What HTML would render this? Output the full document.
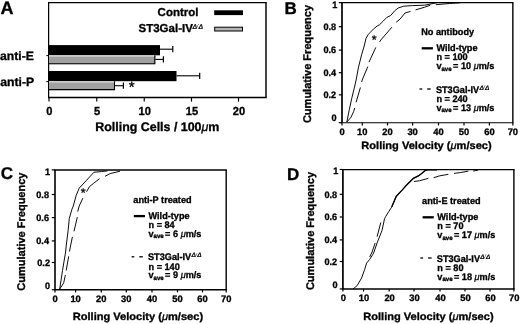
<!DOCTYPE html>
<html><head><meta charset="utf-8"><title>Figure</title>
<style>
html,body{margin:0;padding:0;background:#fff;}
body{width:520px;height:324px;overflow:hidden;}
svg{display:block;font-family:"Liberation Sans", sans-serif;}
svg text{fill:#000;stroke:#000;stroke-width:0.32px;text-rendering:geometricPrecision;}
</style></head>
<body>
<svg width="520" height="324" viewBox="0 0 520 324">
<rect x="0" y="0" width="520" height="324" fill="#fff"/>
<g id="panelA">
<text transform="translate(0.4,13.9)" font-size="18.0" text-anchor="start" font-weight="bold" >A</text>
<line x1="48.0" y1="2.6" x2="266.7" y2="2.6" stroke="#000" stroke-width="1.15" />
<line x1="48.6" y1="2.6" x2="48.6" y2="97.5" stroke="#000" stroke-width="1.25" />
<line x1="48.0" y1="97.5" x2="266.7" y2="97.5" stroke="#000" stroke-width="1.3" />
<line x1="266.0" y1="2.6" x2="266.0" y2="97.5" stroke="#000" stroke-width="1.45" />
<line x1="49" y1="97.5" x2="49" y2="101.6" stroke="#000" stroke-width="1.15" />
<text transform="translate(49.4,114.6) scale(0.95,1)" font-size="11.7" text-anchor="middle" font-weight="bold" >0</text>
<line x1="96.75" y1="97.5" x2="96.75" y2="101.6" stroke="#000" stroke-width="1.15" />
<text transform="translate(97.15,114.6) scale(0.95,1)" font-size="11.7" text-anchor="middle" font-weight="bold" >5</text>
<line x1="144.25" y1="97.5" x2="144.25" y2="101.6" stroke="#000" stroke-width="1.15" />
<text transform="translate(144.65,114.6) scale(0.95,1)" font-size="11.7" text-anchor="middle" font-weight="bold" >10</text>
<line x1="191.5" y1="97.5" x2="191.5" y2="101.6" stroke="#000" stroke-width="1.15" />
<text transform="translate(191.9,114.6) scale(0.95,1)" font-size="11.7" text-anchor="middle" font-weight="bold" >15</text>
<line x1="238.5" y1="97.5" x2="238.5" y2="101.6" stroke="#000" stroke-width="1.15" />
<text transform="translate(238.9,114.6) scale(0.95,1)" font-size="11.7" text-anchor="middle" font-weight="bold" >20</text>
<text transform="translate(157.3,131.2)" font-size="12.43" text-anchor="middle" font-weight="bold" >Rolling Cells / 100<tspan font-style="italic" font-weight="normal">μ</tspan>m</text>
<text transform="translate(198.5,15.8)" font-size="11.5" text-anchor="end" font-weight="bold" >Control</text>
<rect x="214.2" y="10.3" width="28.8" height="4.8" fill="#000"/>
<text transform="translate(138.5,31.8)" font-size="11.5" text-anchor="start" font-weight="bold" >ST3Gal-IV<tspan font-size="6.8" dy="-2.8" dx="-0.4" font-style="italic" stroke-width="0.1">Δ<tspan font-weight="normal" font-size="5.6" dx="-0.2" dy="-0.6" stroke-width="0">/</tspan><tspan dx="0.2" dy="0.6">Δ</tspan></tspan></text>
<rect x="214.7" y="27.2" width="27.8" height="3.8" fill="#b4b4b4" stroke="#000" stroke-width="1"/>
<text transform="translate(0,59.5)" font-size="12.2" text-anchor="start" font-weight="bold" >anti-E</text>
<text transform="translate(0.3,86.3)" font-size="12.2" text-anchor="start" font-weight="bold" >anti-P</text>
<line x1="46.3" y1="55.6" x2="49" y2="55.6" stroke="#000" stroke-width="1" />
<line x1="46.3" y1="81.6" x2="49" y2="81.6" stroke="#000" stroke-width="1" />
<rect x="49" y="45.1" width="111" height="10.199999999999996" fill="#000"/>
<line x1="160" y1="49.2" x2="172.8" y2="49.2" stroke="#000" stroke-width="1.1" />
<line x1="172.8" y1="46.1" x2="172.8" y2="52.300000000000004" stroke="#000" stroke-width="1.2" />
<rect x="49" y="55.3" width="106.30000000000001" height="8.900000000000006" fill="#a0a0a0"/>
<rect x="49" y="55.3" width="106.30000000000001" height="1.4" fill="#d4d4d4"/>
<path d="M154.8,55.3 L154.8,63.7 L49,63.7" fill="none" stroke="#000" stroke-width="1.1"/>
<line x1="155.3" y1="59.4" x2="163.4" y2="59.4" stroke="#000" stroke-width="1.1" />
<line x1="163.4" y1="56.3" x2="163.4" y2="62.5" stroke="#000" stroke-width="1.2" />
<rect x="49" y="71" width="127.5" height="10.200000000000003" fill="#000"/>
<line x1="176.5" y1="75.8" x2="199.7" y2="75.8" stroke="#000" stroke-width="1.1" />
<line x1="199.7" y1="72.7" x2="199.7" y2="78.89999999999999" stroke="#000" stroke-width="1.2" />
<rect x="49" y="81.2" width="66" height="8.899999999999991" fill="#a0a0a0"/>
<rect x="49" y="81.2" width="66" height="1.4" fill="#d4d4d4"/>
<path d="M114.5,81.2 L114.5,89.6 L49,89.6" fill="none" stroke="#000" stroke-width="1.1"/>
<line x1="115" y1="85.7" x2="123.4" y2="85.7" stroke="#000" stroke-width="1.1" />
<line x1="123.4" y1="82.60000000000001" x2="123.4" y2="88.8" stroke="#000" stroke-width="1.2" />
<text transform="translate(131.7,92.3)" font-size="15" text-anchor="middle" font-weight="normal" stroke-width="0.2">*</text>
</g>
<g id="panelB">
<text transform="translate(284.6,14.3)" font-size="17.0" text-anchor="start" font-weight="bold" >B</text>
<line x1="341.15" y1="2.65" x2="513.5500000000001" y2="2.65" stroke="#000" stroke-width="1.25" />
<line x1="512.85" y1="2.65" x2="512.85" y2="122.7" stroke="#000" stroke-width="1.4" />
<line x1="341.15" y1="122.7" x2="513.5500000000001" y2="122.7" stroke="#000" stroke-width="1.15" />
<line x1="342.0" y1="2.65" x2="342.0" y2="122.7" stroke="#000" stroke-width="1.7" />
<line x1="338.8" y1="2.65" x2="342.0" y2="2.65" stroke="#000" stroke-width="1.2" />
<text transform="translate(337.4,8.45) scale(0.975,1)" font-size="9.4" text-anchor="end" font-weight="bold" >1</text>
<line x1="338.8" y1="26.7" x2="342.0" y2="26.7" stroke="#000" stroke-width="1.2" />
<text transform="translate(336.2,29.8) scale(0.975,1)" font-size="9.4" text-anchor="end" font-weight="bold" >0.8</text>
<line x1="338.8" y1="50.1" x2="342.0" y2="50.1" stroke="#000" stroke-width="1.2" />
<text transform="translate(336.2,53.2) scale(0.975,1)" font-size="9.4" text-anchor="end" font-weight="bold" >0.6</text>
<line x1="338.8" y1="72.7" x2="342.0" y2="72.7" stroke="#000" stroke-width="1.2" />
<text transform="translate(336.2,75.8) scale(0.975,1)" font-size="9.4" text-anchor="end" font-weight="bold" >0.4</text>
<line x1="338.8" y1="94.8" x2="342.0" y2="94.8" stroke="#000" stroke-width="1.2" />
<text transform="translate(336.2,97.89999999999999) scale(0.975,1)" font-size="9.4" text-anchor="end" font-weight="bold" >0.2</text>
<line x1="338.8" y1="122.7" x2="342.0" y2="122.7" stroke="#000" stroke-width="1.2" />
<text transform="translate(336.5,121.2) scale(0.975,1)" font-size="9.4" text-anchor="end" font-weight="bold" >0</text>
<line x1="342.0" y1="122.7" x2="342.0" y2="125.4" stroke="#000" stroke-width="1.2" />
<text transform="translate(342.0,135.1)" font-size="9.4" text-anchor="middle" font-weight="bold" >0</text>
<line x1="362.3" y1="122.7" x2="362.3" y2="125.4" stroke="#000" stroke-width="1.2" />
<text transform="translate(362.3,135.1)" font-size="9.4" text-anchor="middle" font-weight="bold" >10</text>
<line x1="387.5" y1="122.7" x2="387.5" y2="125.4" stroke="#000" stroke-width="1.2" />
<text transform="translate(387.5,135.1)" font-size="9.4" text-anchor="middle" font-weight="bold" >20</text>
<line x1="412.6" y1="122.7" x2="412.6" y2="125.4" stroke="#000" stroke-width="1.2" />
<text transform="translate(412.6,135.1)" font-size="9.4" text-anchor="middle" font-weight="bold" >30</text>
<line x1="438.5" y1="122.7" x2="438.5" y2="125.4" stroke="#000" stroke-width="1.2" />
<text transform="translate(438.5,135.1)" font-size="9.4" text-anchor="middle" font-weight="bold" >40</text>
<line x1="464.0" y1="122.7" x2="464.0" y2="125.4" stroke="#000" stroke-width="1.2" />
<text transform="translate(464.0,135.1)" font-size="9.4" text-anchor="middle" font-weight="bold" >50</text>
<line x1="489.4" y1="122.7" x2="489.4" y2="125.4" stroke="#000" stroke-width="1.2" />
<text transform="translate(489.4,135.1)" font-size="9.4" text-anchor="middle" font-weight="bold" >60</text>
<line x1="512.85" y1="122.7" x2="512.85" y2="125.4" stroke="#000" stroke-width="1.2" />
<text transform="translate(512.85,135.1)" font-size="9.4" text-anchor="middle" font-weight="bold" >70</text>
<text transform="translate(426.5,148.7) scale(1.045,1)" font-size="10.6" text-anchor="middle" font-weight="bold" stroke-width="0.08">Rolling Velocity (<tspan font-style="italic" font-weight="normal">μ</tspan>m/sec)</text>
<text transform="translate(310.7,64.0) rotate(-90) scale(0.985,1)" font-size="11.2" text-anchor="middle" font-weight="bold" stroke-width="0.1">Cumulative Frequency</text>
<text transform="translate(421.2,35.0) scale(0.963,1)" font-size="9.5" text-anchor="start" font-weight="bold" >No antibody</text>
<line x1="421.7" y1="48.3" x2="432.9" y2="48.3" stroke="#000" stroke-width="2.3" />
<text transform="translate(436.4,51.0) scale(0.963,1)" font-size="9.5" text-anchor="start" font-weight="bold" >Wild-type</text>
<text transform="translate(436.4,59.9) scale(0.963,1)" font-size="9.5" text-anchor="start" font-weight="bold" >n = 100</text>
<text transform="translate(436.4,68.7) scale(0.963,1)" font-size="9.5" text-anchor="start" font-weight="bold" >v<tspan font-size="6.3" dy="1.8">ave</tspan><tspan dy="-1.8" dx="-1.2"> </tspan>= 10 <tspan font-style="italic" font-weight="normal">μ</tspan>m/s</text>
<line x1="419.5" y1="89.0" x2="422.2" y2="89.0" stroke="#000" stroke-width="1.3" />
<line x1="427.2" y1="89.0" x2="430.7" y2="89.0" stroke="#000" stroke-width="1.3" />
<text transform="translate(435.9,92.5) scale(0.963,1)" font-size="9.5" text-anchor="start" font-weight="bold" >ST3Gal-IV<tspan font-size="6.6" dy="-2.9" dx="0.3" font-style="italic" stroke-width="0.1">Δ<tspan font-weight="normal" font-size="5.4" dx="-0.2" dy="-0.6" stroke-width="0">/</tspan><tspan dx="0.2" dy="0.6">Δ</tspan></tspan></text>
<text transform="translate(436.4,101.8) scale(0.963,1)" font-size="9.5" text-anchor="start" font-weight="bold" >n = 240</text>
<text transform="translate(436.4,110.6) scale(0.963,1)" font-size="9.5" text-anchor="start" font-weight="bold" >v<tspan font-size="6.3" dy="1.8">ave</tspan><tspan dy="-1.8" dx="-1.2"> </tspan>= 13 <tspan font-style="italic" font-weight="normal">μ</tspan>m/s</text>
<path d="M346.8,122.1 L349.3,109.7 L351.7,98.6 L355.0,85.0 L356.1,80.0 L358.5,67.2 L361.6,54.8 L364.2,46.0 L366.0,38.4 L368.2,34.6 L370.4,32.2 L373.4,29.1 L377.1,26.0 L379.6,24.7 L383.3,21.0 L387.0,17.3 L390.7,15.5 L394.4,11.1 L398.1,8.0 L403.7,6.2 L412.4,5.6 L424.7,5.2 L432.1,3.7 L437.0,2.7" fill="none" stroke="#000" stroke-width="0.95" stroke-linejoin="round" />
<path d="M346.8,122.1 L351.1,117.1 L353.6,111.6 L354.8,107.9" fill="none" stroke="#000" stroke-width="0.95" stroke-linejoin="round" />
<path d="M356.1,102.3 L360.4,87.5" fill="none" stroke="#000" stroke-width="0.95" stroke-linejoin="round" />
<path d="M361.7,82.0 L362.2,80.0 L367.8,66.6" fill="none" stroke="#000" stroke-width="0.95" stroke-linejoin="round" />
<path d="M369.0,62.2 L375.8,47.4" fill="none" stroke="#000" stroke-width="0.95" stroke-linejoin="round" />
<path d="M379.6,41.9 L380.8,40.0 L391.9,27.2" fill="none" stroke="#000" stroke-width="0.95" stroke-linejoin="round" />
<path d="M396.2,22.2 L400.0,19.2 L405.0,13.0 L410.5,11.4" fill="none" stroke="#000" stroke-width="0.95" stroke-linejoin="round" />
<path d="M415.5,9.9 L424.7,7.2 L430.3,5.2" fill="none" stroke="#000" stroke-width="0.95" stroke-linejoin="round" />
<path d="M435.8,4.7 L449.4,3.5 L460.0,2.8" fill="none" stroke="#000" stroke-width="0.95" stroke-linejoin="round" />
<text transform="translate(374.1,44.0)" font-size="12.5" text-anchor="middle" font-weight="normal" stroke-width="0.15">*</text>
</g>
<g id="panelC">
<text transform="translate(0.8,179.3)" font-size="17.0" text-anchor="start" font-weight="bold" >C</text>
<line x1="54.2" y1="169.9" x2="226.89999999999998" y2="169.9" stroke="#000" stroke-width="1.5" />
<line x1="226.2" y1="169.9" x2="226.2" y2="289.7" stroke="#000" stroke-width="1.4" />
<line x1="54.2" y1="289.7" x2="226.89999999999998" y2="289.7" stroke="#000" stroke-width="1.4" />
<line x1="55.0" y1="169.9" x2="55.0" y2="289.7" stroke="#000" stroke-width="1.6" />
<line x1="51.8" y1="169.9" x2="55.0" y2="169.9" stroke="#000" stroke-width="1.2" />
<text transform="translate(50.2,174.5) scale(0.975,1)" font-size="9.4" text-anchor="end" font-weight="bold" >1</text>
<line x1="51.8" y1="194.5" x2="55.0" y2="194.5" stroke="#000" stroke-width="1.2" />
<text transform="translate(49.0,198.0) scale(0.975,1)" font-size="9.4" text-anchor="end" font-weight="bold" >0.8</text>
<line x1="51.8" y1="217.6" x2="55.0" y2="217.6" stroke="#000" stroke-width="1.2" />
<text transform="translate(49.0,221.1) scale(0.975,1)" font-size="9.4" text-anchor="end" font-weight="bold" >0.6</text>
<line x1="51.8" y1="240.9" x2="55.0" y2="240.9" stroke="#000" stroke-width="1.2" />
<text transform="translate(49.0,244.4) scale(0.975,1)" font-size="9.4" text-anchor="end" font-weight="bold" >0.4</text>
<line x1="51.8" y1="262.5" x2="55.0" y2="262.5" stroke="#000" stroke-width="1.2" />
<text transform="translate(50.0,266.0) scale(0.975,1)" font-size="9.4" text-anchor="end" font-weight="bold" >0.2</text>
<line x1="51.8" y1="289.7" x2="55.0" y2="289.7" stroke="#000" stroke-width="1.2" />
<text transform="translate(50.0,288.9) scale(0.975,1)" font-size="9.4" text-anchor="end" font-weight="bold" >0</text>
<line x1="55.0" y1="289.7" x2="55.0" y2="292.4" stroke="#000" stroke-width="1.2" />
<text transform="translate(55.0,301.7)" font-size="9.4" text-anchor="middle" font-weight="bold" >0</text>
<line x1="75.6" y1="289.7" x2="75.6" y2="292.4" stroke="#000" stroke-width="1.2" />
<text transform="translate(75.6,301.7)" font-size="9.4" text-anchor="middle" font-weight="bold" >10</text>
<line x1="101.3" y1="289.7" x2="101.3" y2="292.4" stroke="#000" stroke-width="1.2" />
<text transform="translate(101.3,301.7)" font-size="9.4" text-anchor="middle" font-weight="bold" >20</text>
<line x1="126.3" y1="289.7" x2="126.3" y2="292.4" stroke="#000" stroke-width="1.2" />
<text transform="translate(126.3,301.7)" font-size="9.4" text-anchor="middle" font-weight="bold" >30</text>
<line x1="152" y1="289.7" x2="152" y2="292.4" stroke="#000" stroke-width="1.2" />
<text transform="translate(152,301.7)" font-size="9.4" text-anchor="middle" font-weight="bold" >40</text>
<line x1="177.5" y1="289.7" x2="177.5" y2="292.4" stroke="#000" stroke-width="1.2" />
<text transform="translate(177.5,301.7)" font-size="9.4" text-anchor="middle" font-weight="bold" >50</text>
<line x1="202.5" y1="289.7" x2="202.5" y2="292.4" stroke="#000" stroke-width="1.2" />
<text transform="translate(202.5,301.7)" font-size="9.4" text-anchor="middle" font-weight="bold" >60</text>
<line x1="226.2" y1="289.7" x2="226.2" y2="292.4" stroke="#000" stroke-width="1.2" />
<text transform="translate(226.2,301.7)" font-size="9.4" text-anchor="middle" font-weight="bold" >70</text>
<text transform="translate(137.9,319.8) scale(1.045,1)" font-size="10.6" text-anchor="middle" font-weight="bold" stroke-width="0.08">Rolling Velocity (<tspan font-style="italic" font-weight="normal">μ</tspan>m/sec)</text>
<text transform="translate(24.5,231.6) rotate(-90) scale(0.985,1)" font-size="11.2" text-anchor="middle" font-weight="bold" stroke-width="0.1">Cumulative Frequency</text>
<text transform="translate(133.3,202.8) scale(0.963,1)" font-size="9.5" text-anchor="start" font-weight="bold" >anti-P treated</text>
<line x1="133.8" y1="216.10000000000002" x2="145.0" y2="216.10000000000002" stroke="#000" stroke-width="2.3" />
<text transform="translate(148.5,218.8) scale(0.963,1)" font-size="9.5" text-anchor="start" font-weight="bold" >Wild-type</text>
<text transform="translate(148.5,227.70000000000002) scale(0.963,1)" font-size="9.5" text-anchor="start" font-weight="bold" >n = 84</text>
<text transform="translate(148.5,236.5) scale(0.963,1)" font-size="9.5" text-anchor="start" font-weight="bold" >v<tspan font-size="6.3" dy="1.8">ave</tspan><tspan dy="-1.8" dx="-1.2"> </tspan>= 6 <tspan font-style="italic" font-weight="normal">μ</tspan>m/s</text>
<line x1="131.60000000000002" y1="256.8" x2="134.3" y2="256.8" stroke="#000" stroke-width="1.3" />
<line x1="139.3" y1="256.8" x2="142.8" y2="256.8" stroke="#000" stroke-width="1.3" />
<text transform="translate(148.0,260.3) scale(0.963,1)" font-size="9.5" text-anchor="start" font-weight="bold" >ST3Gal-IV<tspan font-size="6.6" dy="-2.9" dx="0.3" font-style="italic" stroke-width="0.1">Δ<tspan font-weight="normal" font-size="5.4" dx="-0.2" dy="-0.6" stroke-width="0">/</tspan><tspan dx="0.2" dy="0.6">Δ</tspan></tspan></text>
<text transform="translate(148.5,269.6) scale(0.963,1)" font-size="9.5" text-anchor="start" font-weight="bold" >n = 140</text>
<text transform="translate(148.5,278.4) scale(0.963,1)" font-size="9.5" text-anchor="start" font-weight="bold" >v<tspan font-size="6.3" dy="1.8">ave</tspan><tspan dy="-1.8" dx="-1.2"> </tspan>= 9 <tspan font-style="italic" font-weight="normal">μ</tspan>m/s</text>
<path d="M59.7,289.1 L62.5,270.5 L65.6,252.0 L66.2,246.0 L68.1,230.7 L69.3,218.4 L71.8,209.7 L73.3,206.0 L76.1,195.7 L79.2,188.2 L86.6,180.2 L94.0,172.2 L101.4,171.6 L107.6,170.9" fill="none" stroke="#000" stroke-width="0.95" stroke-linejoin="round" />
<path d="M59.7,289.1 L63.7,282.9 L65.0,276.7 L65.4,274.9" fill="none" stroke="#000" stroke-width="0.95" stroke-linejoin="round" />
<path d="M66.2,270.5 L68.7,256.3" fill="none" stroke="#000" stroke-width="0.95" stroke-linejoin="round" />
<path d="M69.5,251.5 L70.5,246.0 L72.4,236.9" fill="none" stroke="#000" stroke-width="0.95" stroke-linejoin="round" />
<path d="M74.0,231.3 L77.3,217.1" fill="none" stroke="#000" stroke-width="0.95" stroke-linejoin="round" />
<path d="M77.7,211.6 L79.2,206.0 L82.9,198.1" fill="none" stroke="#000" stroke-width="0.95" stroke-linejoin="round" />
<path d="M86.5,191.8 L89.3,186.8 L93.5,183.4 L99.6,178.6" fill="none" stroke="#000" stroke-width="0.95" stroke-linejoin="round" />
<path d="M105.0,176.3 L110.1,173.6 L116.0,172.2 L120.0,171.2" fill="none" stroke="#000" stroke-width="0.95" stroke-linejoin="round" />
<text transform="translate(83.2,196.6)" font-size="12.5" text-anchor="middle" font-weight="normal" stroke-width="0.15">*</text>
</g>
<g id="panelD">
<text transform="translate(287.0,180)" font-size="17.0" text-anchor="start" font-weight="bold" >D</text>
<line x1="342.04999999999995" y1="169.5" x2="514.6" y2="169.5" stroke="#000" stroke-width="1.25" />
<line x1="513.9" y1="169.5" x2="513.9" y2="288.9" stroke="#000" stroke-width="1.4" />
<line x1="342.04999999999995" y1="288.9" x2="514.6" y2="288.9" stroke="#000" stroke-width="1.5" />
<line x1="342.9" y1="169.5" x2="342.9" y2="288.9" stroke="#000" stroke-width="1.7" />
<line x1="339.7" y1="169.5" x2="342.9" y2="169.5" stroke="#000" stroke-width="1.2" />
<text transform="translate(338.29999999999995,174.3) scale(0.975,1)" font-size="9.4" text-anchor="end" font-weight="bold" >1</text>
<line x1="339.7" y1="194.3" x2="342.9" y2="194.3" stroke="#000" stroke-width="1.2" />
<text transform="translate(337.09999999999997,197.60000000000002) scale(0.975,1)" font-size="9.4" text-anchor="end" font-weight="bold" >0.8</text>
<line x1="339.7" y1="217" x2="342.9" y2="217" stroke="#000" stroke-width="1.2" />
<text transform="translate(337.09999999999997,220.3) scale(0.975,1)" font-size="9.4" text-anchor="end" font-weight="bold" >0.6</text>
<line x1="339.7" y1="239.9" x2="342.9" y2="239.9" stroke="#000" stroke-width="1.2" />
<text transform="translate(337.09999999999997,243.20000000000002) scale(0.975,1)" font-size="9.4" text-anchor="end" font-weight="bold" >0.4</text>
<line x1="339.7" y1="261.5" x2="342.9" y2="261.5" stroke="#000" stroke-width="1.2" />
<text transform="translate(337.09999999999997,264.8) scale(0.975,1)" font-size="9.4" text-anchor="end" font-weight="bold" >0.2</text>
<line x1="339.7" y1="288.9" x2="342.9" y2="288.9" stroke="#000" stroke-width="1.2" />
<text transform="translate(337.7,288.29999999999995) scale(0.975,1)" font-size="9.4" text-anchor="end" font-weight="bold" >0</text>
<line x1="342.9" y1="288.9" x2="342.9" y2="291.59999999999997" stroke="#000" stroke-width="1.2" />
<text transform="translate(343.29999999999995,300.9)" font-size="9.4" text-anchor="middle" font-weight="bold" >0</text>
<line x1="363.5" y1="288.9" x2="363.5" y2="291.59999999999997" stroke="#000" stroke-width="1.2" />
<text transform="translate(363.9,300.9)" font-size="9.4" text-anchor="middle" font-weight="bold" >10</text>
<line x1="389.2" y1="288.9" x2="389.2" y2="291.59999999999997" stroke="#000" stroke-width="1.2" />
<text transform="translate(389.59999999999997,300.9)" font-size="9.4" text-anchor="middle" font-weight="bold" >20</text>
<line x1="414" y1="288.9" x2="414" y2="291.59999999999997" stroke="#000" stroke-width="1.2" />
<text transform="translate(414.4,300.9)" font-size="9.4" text-anchor="middle" font-weight="bold" >30</text>
<line x1="440" y1="288.9" x2="440" y2="291.59999999999997" stroke="#000" stroke-width="1.2" />
<text transform="translate(440.4,300.9)" font-size="9.4" text-anchor="middle" font-weight="bold" >40</text>
<line x1="465" y1="288.9" x2="465" y2="291.59999999999997" stroke="#000" stroke-width="1.2" />
<text transform="translate(465.4,300.9)" font-size="9.4" text-anchor="middle" font-weight="bold" >50</text>
<line x1="490" y1="288.9" x2="490" y2="291.59999999999997" stroke="#000" stroke-width="1.2" />
<text transform="translate(490.4,300.9)" font-size="9.4" text-anchor="middle" font-weight="bold" >60</text>
<line x1="513.9" y1="288.9" x2="513.9" y2="291.59999999999997" stroke="#000" stroke-width="1.2" />
<text transform="translate(514.3,300.9)" font-size="9.4" text-anchor="middle" font-weight="bold" >70</text>
<text transform="translate(428.4,319.8) scale(1.045,1)" font-size="10.6" text-anchor="middle" font-weight="bold" stroke-width="0.08">Rolling Velocity (<tspan font-style="italic" font-weight="normal">μ</tspan>m/sec)</text>
<text transform="translate(314.4,231) rotate(-90) scale(0.985,1)" font-size="11.2" text-anchor="middle" font-weight="bold" stroke-width="0.1">Cumulative Frequency</text>
<text transform="translate(422.1,204) scale(0.963,1)" font-size="9.5" text-anchor="start" font-weight="bold" >anti-E treated</text>
<line x1="422.6" y1="217.3" x2="433.8" y2="217.3" stroke="#000" stroke-width="2.3" />
<text transform="translate(437.3,220) scale(0.963,1)" font-size="9.5" text-anchor="start" font-weight="bold" >Wild-type</text>
<text transform="translate(437.3,228.9) scale(0.963,1)" font-size="9.5" text-anchor="start" font-weight="bold" >n = 70</text>
<text transform="translate(437.3,237.7) scale(0.963,1)" font-size="9.5" text-anchor="start" font-weight="bold" >v<tspan font-size="6.3" dy="1.8">ave</tspan><tspan dy="-1.8" dx="-1.2"> </tspan>= 17 <tspan font-style="italic" font-weight="normal">μ</tspan>m/s</text>
<line x1="420.40000000000003" y1="258" x2="423.1" y2="258" stroke="#000" stroke-width="1.3" />
<line x1="428.1" y1="258" x2="431.6" y2="258" stroke="#000" stroke-width="1.3" />
<text transform="translate(436.8,261.5) scale(0.963,1)" font-size="9.5" text-anchor="start" font-weight="bold" >ST3Gal-IV<tspan font-size="6.6" dy="-2.9" dx="0.3" font-style="italic" stroke-width="0.1">Δ<tspan font-weight="normal" font-size="5.4" dx="-0.2" dy="-0.6" stroke-width="0">/</tspan><tspan dx="0.2" dy="0.6">Δ</tspan></tspan></text>
<text transform="translate(437.3,270.8) scale(0.963,1)" font-size="9.5" text-anchor="start" font-weight="bold" >n = 80</text>
<text transform="translate(437.3,279.6) scale(0.963,1)" font-size="9.5" text-anchor="start" font-weight="bold" >v<tspan font-size="6.3" dy="1.8">ave</tspan><tspan dy="-1.8" dx="-1.2"> </tspan>= 18 <tspan font-style="italic" font-weight="normal">μ</tspan>m/s</text>
<path d="M353.0,289.1 L357.3,285.4 L361.6,278.0 L364.7,269.3 L366.6,263.1 L369.7,259.4 L372.8,254.5 L374.0,252.0 L377.1,242.9 L382.0,230.5 L384.6,218.5 L385.7,216.5 L388.8,211.5 L391.8,206.8 L396.3,196.2 L402.1,190.1 L407.1,184.5 L413.3,178.4 L419.4,175.3 L425.6,170.3 L427.0,169.7" fill="none" stroke="#000" stroke-width="0.95" stroke-linejoin="round" />
<path d="M391.8,206.8 L396.3,196.2 L402.1,190.1 L407.1,184.5 L413.3,178.4 L419.4,175.3 L425.6,170.3 L428.0,169.9 L437.0,169.9" fill="none" stroke="#000" stroke-width="1.35" stroke-linejoin="round" />
<path d="M369.7,257.0 L372.1,252.0 L375.2,242.9" fill="none" stroke="#000" stroke-width="0.95" stroke-linejoin="round" />
<path d="M377.1,236.7 L380.8,222.5" fill="none" stroke="#000" stroke-width="0.95" stroke-linejoin="round" />
<path d="M413.9,181.5 L419.4,180.8 L428.4,178.3" fill="none" stroke="#000" stroke-width="0.95" stroke-linejoin="round" />
<path d="M433.6,177.7 L439.8,175.8 L448.4,174.3" fill="none" stroke="#000" stroke-width="0.95" stroke-linejoin="round" />
<path d="M454.0,173.4 L460.8,172.5 L468.3,171.1" fill="none" stroke="#000" stroke-width="0.95" stroke-linejoin="round" />
<path d="M473.2,171.0 L478.2,170.1" fill="none" stroke="#000" stroke-width="0.95" stroke-linejoin="round" />
</g>
</svg>
</body></html>
